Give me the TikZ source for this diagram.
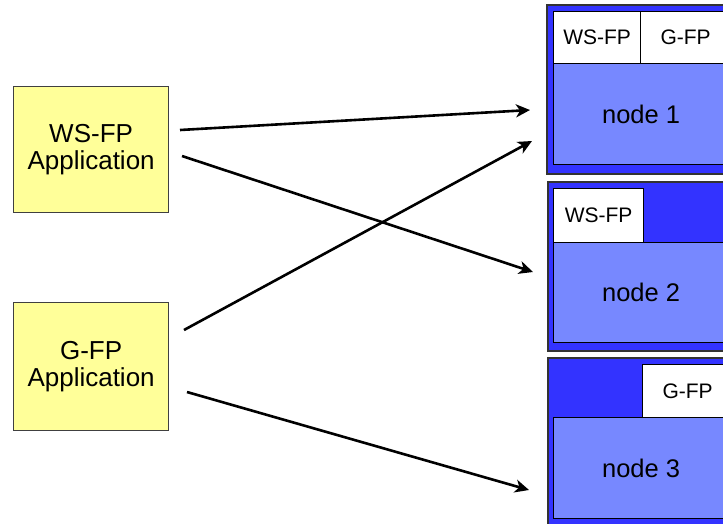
\documentclass[tikz,border=0pt]{standalone}
\usepackage{fontspec}
\setmainfont{Liberation Sans}
\usetikzlibrary{arrows.meta}
\definecolor{appyellow}{HTML}{FFFF99}
\definecolor{hostblue}{HTML}{3333FF}
\definecolor{nodeblue}{HTML}{7788FF}

\begin{document}
\begin{tikzpicture}[x=1pt, y=-1pt,
    app/.style={draw=black!75, line width=1.2pt, fill=appyellow, anchor=north west,
        minimum width=155pt, align=center, font=\fontsize{26}{27}\selectfont},
    host/.style={draw=black!80, line width=1.5pt, fill=hostblue, anchor=north west,
        inner sep=0pt, minimum width=190pt},
    fp/.style={draw=black, line width=1.2pt, fill=white, anchor=north west,
        inner sep=0pt, font=\fontsize{21}{21}\selectfont},
    body/.style={draw=black, line width=1.2pt, fill=nodeblue, anchor=north west,
        inner sep=0pt, minimum width=175pt, font=\fontsize{25.5}{26}\selectfont},
    arr/.style={-{Stealth[length=14pt,width=13pt,inset=4pt]}, line width=2.6pt}]
    \useasboundingbox (0,0) rectangle (723,523);
    % applications
    \node[app, minimum height=126pt] (wsapp) at (13,86) {WS-FP\\Application};
    \node[app, minimum height=128pt] (gapp) at (13,302) {G-FP\\Application};
    % node 1
    \node[host, minimum height=169pt] (host1) at (546,4) {};
    \node[fp, minimum width=87pt, minimum height=52pt] (ws1) at (553,11) {WS-FP};
    \node[fp, minimum width=90pt, minimum height=52pt] (g1) at (640,11) {G-FP};
    \node[body, minimum height=101pt] (node1) at (553,63) {node 1};
    % node 2
    \node[host, minimum height=169pt] (host2) at (547,181) {};
    \node[fp, minimum width=90pt, minimum height=54pt] (ws2) at (553,188) {WS-FP};
    \node[body, minimum height=100pt] (node2) at (553,242) {node 2};
    % node 3
    \node[host, minimum height=180pt] (host3) at (547,357) {};
    \node[fp, minimum width=90pt, minimum height=53pt] (g3) at (642,364) {G-FP};
    \node[body, minimum height=101pt] (node3) at (553,417) {node 3};
    % arrow ends
    \coordinate (ws-a) at (180,130);
    \coordinate (ws-b) at (182,156);
    \coordinate (g-a) at (184,330);
    \coordinate (g-b) at (187,392);
    \coordinate (in1a) at (530,110);
    \coordinate (in1b) at (532,141);
    \coordinate (in2) at (533,272);
    \coordinate (in3) at (529,490);
    \draw[arr] (ws-a) -- (in1a);
    \draw[arr] (ws-b) -- (in2);
    \draw[arr] (g-a) -- (in1b);
    \draw[arr] (g-b) -- (in3);
\end{tikzpicture}
\end{document}
